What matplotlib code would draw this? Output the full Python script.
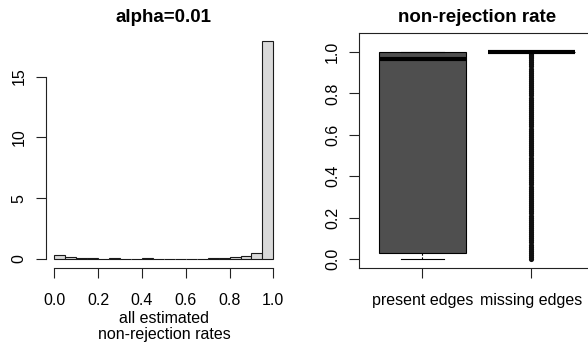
import numpy as np
import matplotlib
matplotlib.use('Agg')
from matplotlib import pyplot as plt

plt.rcParams['font.family'] = ['Liberation Sans', 'DejaVu Sans']

# histogram of all estimated non-rejection rates (density, bin width 0.05)
bin_edges = [0.00, 0.05, 0.10, 0.15, 0.20, 0.25, 0.30, 0.35, 0.40, 0.45, 0.50,
             0.55, 0.60, 0.65, 0.70, 0.75, 0.80, 0.85, 0.90, 0.95, 1.00]
density = [0.33, 0.16, 0.06, 0.05, 0.04, 0.05, 0.04, 0.04, 0.05, 0.04,
           0.04, 0.04, 0.04, 0.04, 0.05, 0.06, 0.14, 0.25, 0.47, 17.9]

# boxplot summaries: non-rejection rate per edge type
groups = ['present edges', 'missing edges']
present_stats = dict(whislo=0.0, q1=0.03, med=0.965, q3=1.0, whishi=1.0)
missing_stats = dict(whislo=1.0, q1=1.0, med=1.0, q3=1.0, whishi=1.0)
missing_outliers = [0.00, 0.01, 0.02, 0.03, 0.04, 0.05, 0.06, 0.07, 0.08, 0.09,
                    0.10, 0.11, 0.12, 0.13, 0.14, 0.15, 0.16, 0.17, 0.18, 0.19,
                    0.20, 0.21, 0.22, 0.23, 0.24, 0.25, 0.26, 0.27, 0.28, 0.29,
                    0.30, 0.31, 0.32, 0.33, 0.34, 0.35, 0.36, 0.37, 0.38, 0.39,
                    0.40, 0.41, 0.42, 0.43, 0.44, 0.45, 0.46, 0.47, 0.48, 0.49,
                    0.50, 0.51, 0.52, 0.53, 0.54, 0.55, 0.56, 0.57, 0.58, 0.59,
                    0.60, 0.61, 0.62, 0.63, 0.64, 0.65, 0.66, 0.67, 0.68, 0.69,
                    0.70, 0.71, 0.72, 0.73, 0.74, 0.75, 0.76, 0.77, 0.78, 0.79,
                    0.80, 0.81, 0.82, 0.83, 0.84, 0.85, 0.86, 0.87, 0.88, 0.89,
                    0.90, 0.91, 0.92, 0.93, 0.94, 0.95, 0.96, 0.97, 0.975, 0.98,
                    0.985, 0.99, 0.995]

TICK_FS = 11.5
TITLE_FS = 13.5
W, H = 588, 347

fig = plt.figure(figsize=(W / 100, H / 100), dpi=100)
fig.patch.set_facecolor('white')

# ---- left: histogram ----
ax1 = fig.add_axes([45.7 / W, (H - 267.7) / H, 236.4 / W, 234.7 / H])
ax1.bar(bin_edges[:-1], density, width=0.05, align='edge',
        color='#d9d9d9', edgecolor='#1a1a1a', linewidth=0.8)
ax1.set_xlim(-0.04, 1.04)
ax1.set_ylim(-0.716, 18.58)
for s in ['top', 'right']:
    ax1.spines[s].set_visible(False)
ax1.spines['left'].set_bounds(0, 15)
ax1.spines['bottom'].set_bounds(0, 1)
ax1.set_xticks([0.0, 0.2, 0.4, 0.6, 0.8, 1.0])
ax1.set_xticklabels(['0.0', '0.2', '0.4', '0.6', '0.8', '1.0'])
ax1.set_yticks([0, 5, 10, 15])
ax1.set_yticklabels(['0', '5', '10', '15'])
ax1.set_title('alpha=0.01', fontsize=TITLE_FS, fontweight='bold', pad=8)
ax1.set_xlabel('all estimated\nnon-rejection rates', fontsize=TICK_FS,
               linespacing=1.12, labelpad=2)

# ---- right: boxplot ----
ax2 = fig.add_axes([359.3 / W, (H - 267.7) / H, 235.2 / W, 235.0 / H])
present_stats['fliers'] = []
present_stats['label'] = groups[0]
missing_stats['fliers'] = missing_outliers
missing_stats['label'] = groups[1]
ax2.bxp([present_stats, missing_stats], positions=[1, 2], widths=0.8,
        capwidths=0.4, patch_artist=True, showfliers=True,
        boxprops=dict(facecolor='#4f4f4f', edgecolor='black', linewidth=0.8),
        medianprops=dict(color='black', linewidth=3, solid_capstyle='butt'),
        whiskerprops=dict(color='black', linewidth=0.8, linestyle=(0, (2, 1.5))),
        capprops=dict(color='black', linewidth=0.8),
        flierprops=dict(marker='o', markersize=2.3, markerfacecolor='none',
                        markeredgecolor='#111111', markeredgewidth=1.4,
                        linestyle='none'))
ax2.set_xlim(0.42, 2.58)
ax2.set_ylim(-0.042, 1.093)
ax2.set_yticks([0.0, 0.2, 0.4, 0.6, 0.8, 1.0])
ax2.set_yticklabels(['0.0', '0.2', '0.4', '0.6', '0.8', '1.0'])
ax2.set_xticks([1, 2])
ax2.set_xticklabels(groups)
ax2.set_title('non-rejection rate', fontsize=TITLE_FS, fontweight='bold', pad=8)

for ax in (ax1, ax2):
    for s in ax.spines.values():
        s.set_linewidth(0.8)
        s.set_color('#222222')
    ax.tick_params(axis='both', labelsize=TICK_FS, length=7.3, width=0.8,
                   color='#222222')
    ax.tick_params(axis='x', pad=11)
    ax.tick_params(axis='y', pad=6.5, labelrotation=90)
    for lab in ax.get_yticklabels():
        lab.set_va('center')

fig.savefig('out.png', dpi=100, facecolor='white')
